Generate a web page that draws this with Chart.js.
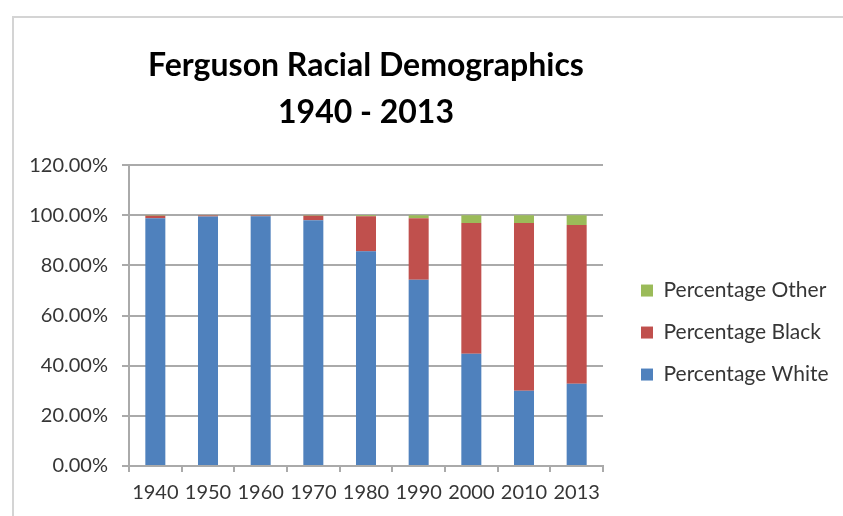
<!DOCTYPE html>
<html>
<head>
<meta charset="utf-8">
<script src="https://cdn.jsdelivr.net/npm/chart.js@4.4.1/dist/chart.umd.min.js"></script>
<style>
  html, body { margin: 0; padding: 0; background: #fff; overflow: hidden; }
  #frame {
    position: absolute;
    left: 12px;
    top: 16px;
    width: 829px;
    height: 498px;
    border-left: 2px solid #d4d4d4;
    border-top: 2px solid #d4d4d4;
  }
</style>
</head>
<body>
<div id="frame"><canvas id="chart" width="829" height="498"></canvas></div>
<script>
const years = ['1940', '1950', '1960', '1970', '1980', '1990', '2000', '2010', '2013'];
const pctWhite = [98.8, 99.5, 99.6, 98.0, 85.6, 74.3, 44.8, 30.0, 32.8];
const pctBlack = [1.0, 0.4, 0.3, 1.8, 14.0, 24.5, 52.1, 66.9, 63.3];
const pctOther = [0.2, 0.1, 0.1, 0.2, 0.4, 1.2, 3.1, 3.1, 3.9];
const yTicks = [0, 20, 40, 60, 80, 100, 120];

const gridColor = '#aaaaaa';
const textColor = '#363636';

// chart layout wants roomy side boxes, so the left padding is pulled out
// and the y axis box is widened by the same amount
const leftPull = 800;

function buildDemographicsChart() {
    const chartCtx = document.getElementById('chart').getContext('2d');

    const chart = new Chart(chartCtx, {
        type: 'bar',
        data: {
            labels: years,
            datasets: [{
                label: 'Percentage White',
                data: pctWhite,
                backgroundColor: '#4f81bd'
            }, {
                label: 'Percentage Black',
                data: pctBlack,
                backgroundColor: '#c0504d'
            }, {
                label: 'Percentage Other',
                data: pctOther,
                backgroundColor: '#9bbb59'
            }]
        },
        options: {
            responsive: false,
            animation: false,
            categoryPercentage: 1,
            barPercentage: 0.38,
            layout: {
                padding: { top: 0, left: -leftPull, right: 9, bottom: 2 }
            },
            plugins: {
                tooltip: { enabled: false },
                title: {
                    display: true,
                    fullSize: false,
                    text: ['Ferguson Racial Demographics', '1940 - 2013'],
                    color: '#000',
                    font: { family: 'Lato', size: 32, weight: 'bold', lineHeight: 1.47 },
                    padding: { top: 24, bottom: 29 }
                },
                legend: {
                    position: 'right',
                    fullSize: false,
                    reverse: true,
                    maxWidth: 214,
                    title: {
                        display: true,
                        text: '',
                        font: { size: 10, lineHeight: 1.2 },
                        padding: { top: 11, bottom: 11 }
                    },
                    labels: {
                        boxWidth: 12,
                        boxHeight: 12,
                        padding: 21,
                        color: textColor,
                        font: { family: 'Lato', size: 21 }
                    }
                }
            },
            scales: {
                x: {
                    stacked: true,
                    grid: {
                        offset: true,
                        drawOnChartArea: false,
                        drawTicks: true,
                        tickLength: 6,
                        color: gridColor,
                        lineWidth: 2
                    },
                    border: { color: gridColor, width: 2 },
                    ticks: {
                        color: textColor,
                        padding: 9,
                        maxRotation: 0,
                        font: { family: 'Lato', size: 20 }
                    }
                },
                y: {
                    stacked: true,
                    min: 0,
                    max: 120,
                    afterBuildTicks: scale => {
                        scale.ticks = yTicks.map(v => ({ value: v }));
                    },
                    afterFit: scale => {
                        scale.width = 115 + leftPull;
                    },
                    grid: {
                        color: gridColor,
                        lineWidth: 2,
                        tickLength: 7
                    },
                    border: { color: gridColor, width: 2 },
                    ticks: {
                        color: textColor,
                        padding: 14,
                        font: { family: 'Lato', size: 20 },
                        callback: value => value.toFixed(2) + '%'
                    }
                },
                gap: {
                    position: 'right',
                    display: true,
                    grid: { display: false },
                    border: { display: false },
                    ticks: { display: false },
                    afterFit: scale => {
                        scale.width = 17;
                    }
                }
            }
        }
    });
    return chart;
}

buildDemographicsChart();
</script>
</body>
</html>
